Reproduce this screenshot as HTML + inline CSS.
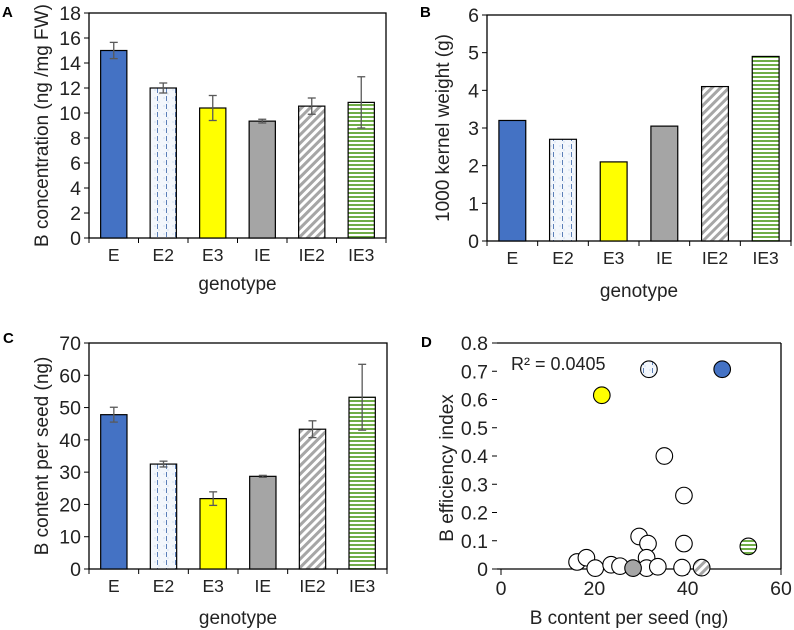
<!DOCTYPE html>
<html><head><meta charset="utf-8">
<style>
html,body{margin:0;padding:0;background:#fff;}
svg{display:block;font-family:"Liberation Sans",Arial,sans-serif;}
</style></head>
<body>
<svg id="fig" width="794" height="630" viewBox="0 0 794 630" xmlns="http://www.w3.org/2000/svg">
<defs>
<pattern id="pE2" patternUnits="userSpaceOnUse" width="9" height="8">
<rect width="9" height="8" fill="#f3f7fc"/>
<circle cx="2" cy="2" r="0.6" fill="#bcd0ea"/><circle cx="6" cy="6" r="0.6" fill="#bcd0ea"/>
<line x1="4.5" y1="0" x2="4.5" y2="5" stroke="#5b7fb8" stroke-width="1"/>
</pattern>
<pattern id="pIE2" patternUnits="userSpaceOnUse" width="6" height="6" patternTransform="rotate(45)">
<rect width="6" height="6" fill="#fff"/>
<rect width="3" height="6" fill="#a6a6a6"/>
</pattern>
<pattern id="pIE3" patternUnits="userSpaceOnUse" width="8" height="4">
<rect width="8" height="4" fill="#fff"/>
<rect width="8" height="2" fill="#70ad47"/>
</pattern>
</defs>
<g id="root"></g>
</svg>
<script>
const categories = ["E","E2","E3","IE","IE2","IE3"];
const fills = ["#4472c4","url(#pE2)","#ffff00","#a5a5a5","url(#pIE2)","url(#pIE3)"];
const concValues = [15.0, 12.0, 10.4, 9.35, 10.55, 10.85];
const concErrors = [0.65, 0.4, 1.0, 0.15, 0.65, 2.05];
const concTicks = [0,2,4,6,8,10,12,14,16,18];
const kernelValues = [3.2, 2.7, 2.1, 3.05, 4.1, 4.9];
const kernelTicks = [0,1,2,3,4,5,6];
const contentValues = [47.8, 32.5, 21.8, 28.7, 43.3, 53.2];
const contentErrors = [2.3, 0.9, 2.1, 0.3, 2.6, 10.2];
const contentTicks = [0,10,20,30,40,50,60,70];
const scatterX = [21.6, 31.7, 47.4, 35.0, 39.2, 29.6, 31.5, 39.2, 53.0, 16.3, 18.3, 20.2, 23.6, 25.5, 31.2, 31.2, 33.6, 38.8, 28.3, 43.0];
const scatterY = [0.615, 0.707, 0.707, 0.40, 0.26, 0.115, 0.09, 0.09, 0.08, 0.025, 0.04, 0.003, 0.015, 0.01, 0.04, 0.003, 0.008, 0.005, 0.003, 0.005];
const scatterFill = ["#ffff00","url(#pE2)","#4472c4","#fff","#fff","#fff","#fff","#fff","url(#pIE3)","#fff","#fff","#fff","#fff","#fff","#fff","#fff","#fff","#fff","#a5a5a5","url(#pIE2)"];
const scatterXTicks = [0,20,40,60];
const scatterYTicks = [0,0.1,0.2,0.3,0.4,0.5,0.6,0.7,0.8];

const NS="http://www.w3.org/2000/svg";
const root=document.getElementById('root');
function el(tag,attrs,parent,text){const e=document.createElementNS(NS,tag);for(const k in attrs)e.setAttribute(k,attrs[k]);if(text!==undefined)e.textContent=text;(parent||root).appendChild(e);return e;}

function barPanel(opt){
  const g=el('g',{});
  
  
  const L=opt.left,R=opt.right,T=opt.top,B=opt.bottom,max=opt.ticks[opt.ticks.length-1];
  const y=v=>B-(v/max)*(B-T);
  const band=(R-L)/categories.length;
  const xc=i=>L+band*(i+0.5);
  const frame=el('rect',{x:L,y:T,width:R-L,height:B-T,fill:'none',stroke:'#000','stroke-width':1.3},g);
  
  
  opt.ticks.forEach(t=>{
    el('line',{x1:L-5,x2:L,y1:y(t),y2:y(t),stroke:'#000'},g);
    const tl=el('text',{x:L-8,y:y(t)+7,'text-anchor':'end','font-size':19.5,fill:'#222'},g,String(t));
    
    
  });
  for(let i=0;i<=categories.length;i++) el('line',{x1:L+band*i,x2:L+band*i,y1:B,y2:B+5,stroke:'#000'},g);
  categories.forEach((c,i)=>{
    const bw=band*0.53;
    const r=el('rect',{x:xc(i)-bw/2,y:y(opt.values[i]),width:bw,height:B-y(opt.values[i]),fill:fills[i],stroke:'#000','stroke-width':1.2},g);
    
    
    if(opt.errors){
      const v=opt.values[i],e=opt.errors[i],cx=xc(i);
      el('line',{x1:cx,x2:cx,y1:y(v+e),y2:y(v-e),stroke:'#595959','stroke-width':1.3},g);
      el('line',{x1:cx-4,x2:cx+4,y1:y(v+e),y2:y(v+e),stroke:'#595959','stroke-width':1.3},g);
      el('line',{x1:cx-4,x2:cx+4,y1:y(v-e),y2:y(v-e),stroke:'#595959','stroke-width':1.3},g);
    }
    const cl=el('text',{x:xc(i),y:B+23,'text-anchor':'middle','font-size':17.5,fill:'#222'},g,c);
    
    
  });
  const xt=el('text',{x:(L+R)/2,y:opt.xtY,'text-anchor':'middle','font-size':19,fill:'#222'},g,'genotype');
  
  
  const yt=el('text',{x:0,y:0,'text-anchor':'middle','font-size':19,fill:'#222',transform:`translate(${opt.ytX},${(T+B)/2}) rotate(-90)`},g,opt.ytitle);
  
  
  const pl=el('text',{x:opt.lx,y:opt.ly,'font-size':15,'font-weight':'bold',fill:'#000'},g,opt.letter);
  
  
}

barPanel({name:'panel-a-chart',left:89,right:386,top:13,bottom:238,ticks:concTicks,values:concValues,errors:concErrors,ytitle:'B concentration (ng /mg FW)',ytX:48,xtY:290,letter:'A',lx:2,ly:17});
barPanel({name:'panel-b-chart',left:487,right:791,top:15,bottom:241,ticks:kernelTicks,values:kernelValues,ytitle:'1000 kernel weight (g)',ytX:449,xtY:297,letter:'B',lx:420,ly:17});
barPanel({name:'panel-c-chart',left:89,right:387,top:343,bottom:569,ticks:contentTicks,values:contentValues,errors:contentErrors,ytitle:'B content per seed (ng)',ytX:48,xtY:624,letter:'C',lx:3,ly:343});

(function(){
  const g=el('g',{});
  
  
  const L=501,R=781,T=343,B=569;
  const x=v=>L+v/60*(R-L);
  const y=v=>B-v/0.8*(B-T);
  el('line',{x1:L-4,x2:R,y1:T,y2:T,stroke:'#000','stroke-width':1.3},g);
  el('line',{x1:R,x2:R,y1:T,y2:B,stroke:'#000','stroke-width':1.3},g);
  el('line',{x1:L-4,x2:R,y1:B,y2:B,stroke:'#000','stroke-width':1.3},g);
  scatterYTicks.forEach(t=>{
    el('line',{x1:L-9,x2:L-4,y1:y(t),y2:y(t),stroke:'#000'},g);
    const tl=el('text',{x:L-13,y:y(t)+7,'text-anchor':'end','font-size':19.5,fill:'#222'},g,t===0?'0':t.toFixed(1));
    
    
  });
  scatterXTicks.forEach(t=>{
    el('line',{x1:x(t),x2:x(t),y1:B,y2:B+6,stroke:'#000'},g);
    const tl=el('text',{x:x(t),y:B+26,'text-anchor':'middle','font-size':19.5,fill:'#222'},g,String(t));
    
    
  });
  scatterX.forEach((v,i)=>{
    const c=el('circle',{cx:x(v),cy:y(scatterY[i]),r:8.3,fill:scatterFill[i],stroke:'#000','stroke-width':1.1},g);
    
    
  });
  const r2=el('text',{x:511,y:370,'font-size':18,fill:'#222'},g,'R² = 0.0405');
  
  
  const xt=el('text',{x:(L+R)/2-12,y:624,'text-anchor':'middle','font-size':19,fill:'#222'},g,'B content per seed (ng)');
  
  
  const yt=el('text',{x:0,y:0,'text-anchor':'middle','font-size':19,fill:'#222',transform:`translate(453,${(T+B)/2+12}) rotate(-90)`},g,'B efficiency index');
  
  
  const pl=el('text',{x:421,y:347,'font-size':15,'font-weight':'bold',fill:'#000'},g,'D');
  
  
})();
</script>
</body></html>
